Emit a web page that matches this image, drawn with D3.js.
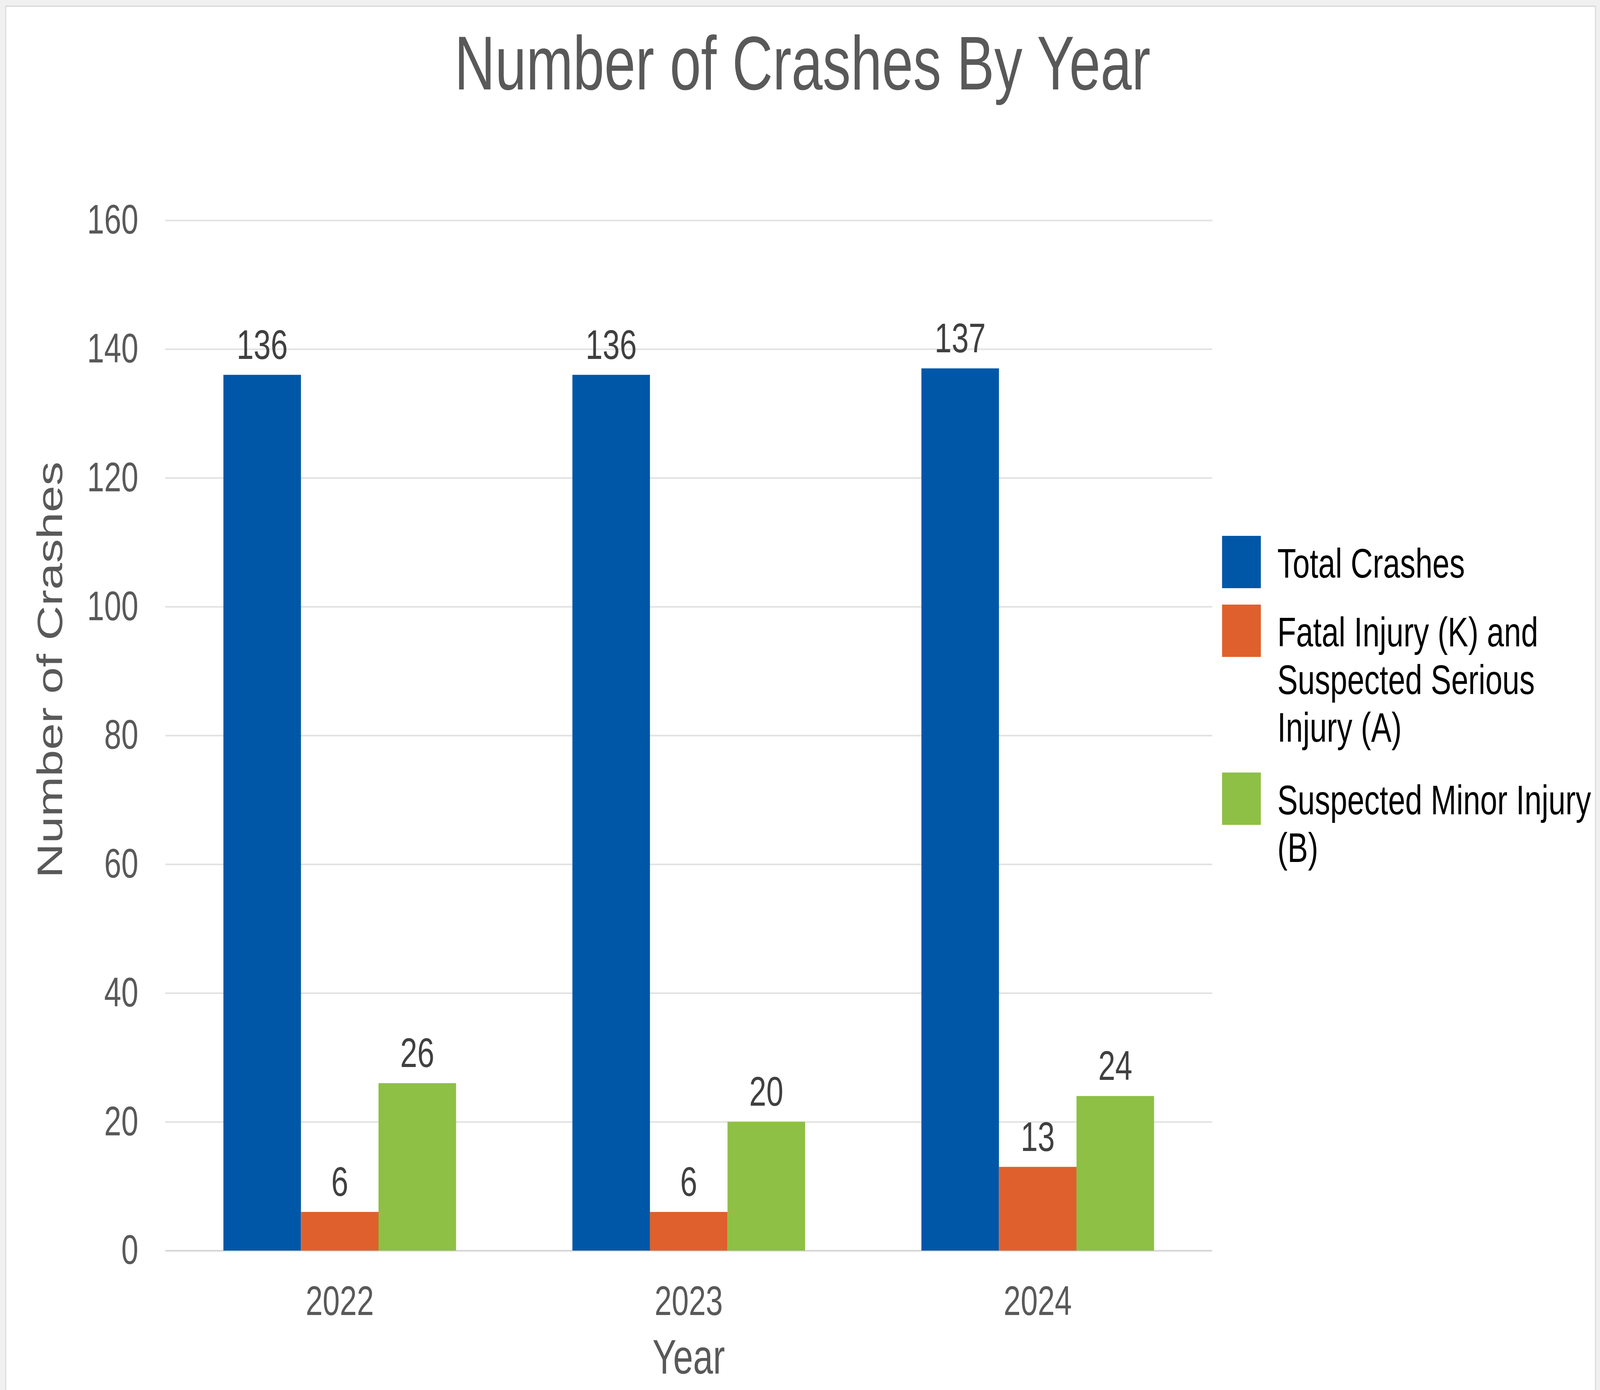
<!DOCTYPE html>
<head>
<meta charset="utf-8">
<title>Number of Crashes By Year</title>
<script src="https://cdn.jsdelivr.net/npm/d3@7"></script>
<style>
html, body { margin: 0; padding: 0; background: #f0f0f0; overflow: hidden; }
svg { display: block; width: 100vw; height: 100vh; }
text { font-family: "Liberation Sans", Arial, sans-serif; }
.grid line { stroke: #e2e2e2; stroke-width: 4; }
.grid path, .xaxis path { display: none; }
</style>
</head>
<body>
<script>
// values
var years = ["2022", "2023", "2024"];
var seriesNames = ["Total Crashes", "Fatal Injury (K) and Suspected Serious Injury (A)", "Suspected Minor Injury (B)"];
var legendLines = [["Total Crashes"], ["Fatal Injury (K) and", "Suspected Serious", "Injury (A)"], ["Suspected Minor Injury", "(B)"]];
var totalCrashes = [136, 136, 137];
var fatalSerious = [6, 6, 13];
var minorInjury = [26, 20, 24];
var yTicks = [0, 20, 40, 60, 80, 100, 120, 140, 160];
var colors = ["#0157a7", "#df602c", "#8dc044"];

var W = 5529, H = 3559;
// plot box (window.top is read-only, so no "top" here)
var plotL = 571, plotR = 4189, plotT = 564, plotB = 3202;

var series = [totalCrashes, fatalSerious, minorInjury];

// drawn in a fixed 5529x3559 coordinate box, stretched to the window
var svg = d3.select("body").append("svg")
	.attr("viewBox", "0 0 " + W + " " + H)
	.attr("preserveAspectRatio", "none");

// card
svg.append("rect")
	.attr("x", 20).attr("y", 16)
	.attr("width", 5493).attr("height", H)
	.attr("fill", "#fff")
	.attr("stroke", "#d6d6d6")
	.attr("stroke-width", 3);

var x0 = d3.scaleBand().domain(years).range([plotL, plotR]).paddingInner(1/3).paddingOuter(1/6);
var x1 = d3.scaleBand().domain([0, 1, 2]).range([0, x0.bandwidth()]);
var y = d3.scaleLinear().domain([0, 160]).range([plotB, plotT]);

// gridlines + y labels
var gy = svg.append("g")
	.attr("class", "grid")
	.attr("transform", "translate(" + plotL + ",0)")
	.call(d3.axisLeft(y).tickValues(yTicks).tickSize(-(plotR - plotL)).tickPadding(93));
gy.selectAll("text")
	.attr("font-size", 106)
	.attr("fill", "#595959");
gy.selectAll(".tick").filter(function(d) { return d == 0; }).select("line")
	.style("stroke", "#d4d4d4");

// x labels
var gx = svg.append("g")
	.attr("class", "xaxis")
	.attr("transform", "translate(0," + plotB + ")")
	.call(d3.axisBottom(x0).tickSize(0).tickPadding(90));
gx.selectAll("text")
	.attr("font-size", 106)
	.attr("fill", "#595959");

// bars
var rows = years.map(function(yr, i) {
	return { year: yr, vals: series.map(function(s) { return s[i]; }) };
});

var groups = svg.selectAll("g.year").data(rows).enter().append("g")
	.attr("class", "year")
	.attr("transform", function(d) { return "translate(" + x0(d.year) + ",0)"; });

groups.selectAll("rect").data(function(d) { return d.vals; }).enter().append("rect")
	.attr("x", function(d, i) { return x1(i); })
	.attr("y", function(d) { return y(d); })
	.attr("width", x1.bandwidth())
	.attr("height", function(d) { return plotB - y(d); })
	.attr("fill", function(d, i) { return colors[i]; });

groups.selectAll("text.val").data(function(d) { return d.vals; }).enter().append("text")
	.attr("class", "val")
	.attr("x", function(d, i) { return x1(i) + x1.bandwidth() / 2; })
	.attr("y", function(d) { return y(d) - 41; })
	.attr("text-anchor", "middle")
	.attr("font-size", 106)
	.attr("fill", "#404040")
	.text(function(d) { return d; });

// titles
svg.append("text")
	.attr("x", 2773).attr("y", 229)
	.attr("text-anchor", "middle")
	.attr("font-size", 194)
	.attr("fill", "#595959")
	.text("Number of Crashes By Year");

svg.append("text")
	.attr("transform", "translate(215,1715) rotate(-90)")
	.attr("text-anchor", "middle")
	.attr("font-size", 123)
	.attr("fill", "#595959")
	.text("Number of Crashes");

svg.append("text")
	.attr("x", (plotL + plotR) / 2).attr("y", 3517)
	.attr("text-anchor", "middle")
	.attr("font-size", 124)
	.attr("fill", "#595959")
	.text("Year");

// legend
var ly = 1372;
var gaps = [69, 79];
var legend = svg.append("g").attr("class", "legend");
seriesNames.forEach(function(name, i) {
	legend.append("rect")
		.attr("x", 4223).attr("y", ly)
		.attr("width", 134).attr("height", 134)
		.attr("fill", colors[i]);
	var t = legend.append("text")
		.attr("font-size", 106)
		.attr("fill", "#000");
	legendLines[i].forEach(function(line, j) {
		t.append("tspan")
			.attr("x", 4414)
			.attr("y", ly + 107 + j * 122)
			.text(line);
	});
	ly = ly + 107 + (legendLines[i].length - 1) * 122 + (gaps[i] || 0);
});
</script>
</body>
